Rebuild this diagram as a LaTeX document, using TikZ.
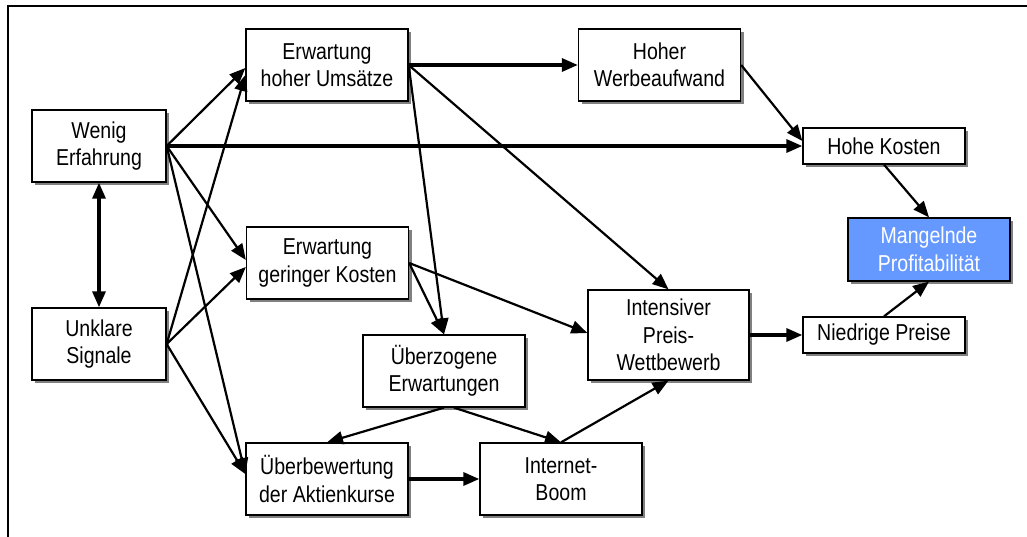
\documentclass[tikz,border=0pt]{standalone}
\usepackage{fontspec}
\setmainfont{Liberation Sans}[FakeStretch=0.85]
\usepackage{tikz}
\usetikzlibrary{arrows.meta,shadows,calc}

\begin{document}
\begin{tikzpicture}[x=1pt,y=-1pt,-{Triangle[length=16pt,width=13pt]},draw=black]
    \tikzstyle{box}=[draw,fill=white,line width=1.3pt,align=center,inner sep=0pt,
        font=\fontsize{23}{27.5}\selectfont,minimum width=162pt,minimum height=72pt,
        drop shadow={shadow xshift=3pt,shadow yshift=-3pt,fill=black!50,opacity=1}];
    \tikzstyle{small box}=[box,minimum width=134pt];
    \tikzstyle{flat box}=[box,minimum height=36pt];
    \tikzstyle{result box}=[box,minimum height=63pt,fill={rgb,255:red,102;green,153;blue,255},text=white];
    \tikzstyle{link}=[line width=2.2pt];
    \tikzstyle{strong link}=[line width=3.2pt];

    % frame, only top and left side visible
    \useasboundingbox (0,0) rectangle (1027,537);
    \draw[-,line width=2pt] (1027,6) -- (8,6) -- (8,537);

    % Draw the causes
    \node[small box] (W) at (99,146) {Wenig\\Erfahrung};
    \node[small box] (U) at (99,344) {Unklare\\Signale};

    % Draw the expectations
    \node[box] (EHU) at (327,65) {Erwartung\\hoher Ums\"atze};
    \node[box] (EGK) at (327.5,263) {Erwartung\\geringer Kosten};
    \node[box] (UE) at (444,371) {\"Uberzogene\\Erwartungen};
    \node[box] (UA) at (327,479) {\"Uberbewertung\\der Aktienkurse};
    \node[box] (IB) at (561,479) {Internet-\\Boom};

    % Draw the effects
    \node[box] (HW) at (659.5,65) {Hoher\\Werbeaufwand};
    \node[box,minimum width=161pt,minimum height=90pt] (IPW) at (668.5,335) {Intensiver\\Preis-\\Wettbewerb};
    \node[flat box] (HK) at (884,146) {Hohe Kosten};
    \node[flat box] (NP) at (884,335) {Niedrige Preise};
    \node[result box] (MP) at (929,249.5) {Mangelnde\\Profitabilit\"at};

    % Connect the boxes
    \path[strong link,{Triangle[length=16pt,width=13pt]}-{Triangle[length=16pt,width=13pt]}] (W.south) edge (U.north);
    \path[link] (W.east) edge ($(EHU.west)+(0,3)$);
    \path[link] (W.east) edge ($(EGK.west)+(0,-3)$);
    \path[link] (W.east) edge ($(UA.west)+(0,-5)$);
    \path[strong link] (W.east) edge (HK.west);
    \path[link] (U.east) edge ($(EHU.west)+(0,10)$);
    \path[link] (U.east) edge ($(EGK.west)+(0,4)$);
    \path[link] (U.east) edge ($(UA.west)+(0,-5)$);
    \path[strong link] (EHU.east) edge (HW.west);
    \path[link] (EHU.east) edge (UE.north);
    \path[link] (EHU.east) edge (IPW.north);
    \path[link] (EGK.east) edge (UE.north);
    \path[link] (EGK.east) edge ($(IPW.west)+(0,-2)$);
    \path[link] (HW.east) edge ($(HK.west)+(0,-5)$);
    \path[link] (HK.south) edge (MP.north);
    \path[link] (NP.north) edge (MP.south);
    \path[strong link] (IPW.east) edge (NP.west);
    \path[link] (UE.south) edge (UA.north);
    \path[link] ($(UE.south)+(10,0)$) edge (IB.north);
    \path[link] (IB.north) edge (IPW.south);
    \path[strong link] (UA.east) edge (IB.west);
\end{tikzpicture}
\end{document}
